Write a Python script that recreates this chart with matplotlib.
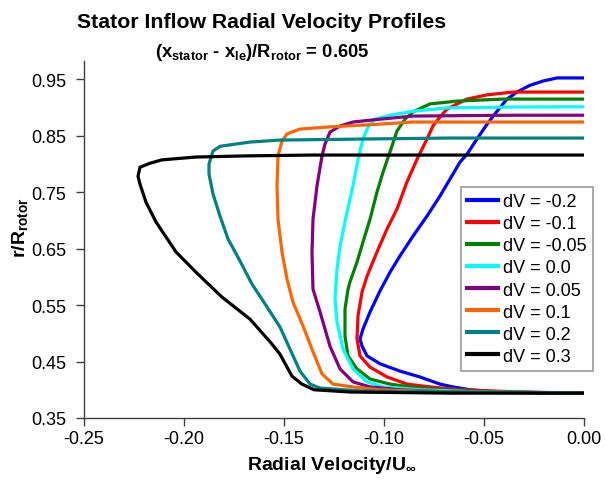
import matplotlib
matplotlib.use("Agg")
import matplotlib.pyplot as plt

plt.rcParams['font.family'] = ['Liberation Sans', 'DejaVu Sans']
plt.rcParams['mathtext.fontset'] = 'custom'
plt.rcParams['mathtext.rm'] = 'Liberation Sans'
plt.rcParams['mathtext.bf'] = 'Liberation Sans:bold'
plt.rcParams['mathtext.it'] = 'Liberation Sans:italic'
plt.rcParams['axes.unicode_minus'] = False

labels = ['dV = -0.2', 'dV = -0.1', 'dV = -0.05', 'dV = 0.0',
          'dV = 0.05', 'dV = 0.1', 'dV = 0.2', 'dV = 0.3']
colors = ['#0000FF', '#FF0000', '#008000', '#00FFFF',
          '#800080', '#FF6600', '#008080', '#000000']

# dV = -0.2
x_m02 = [0.000, -0.042, -0.057, -0.0655, -0.072, -0.082, -0.092, -0.102, -0.1085,
         -0.111, -0.112, -0.1105, -0.107, -0.102, -0.097, -0.092, -0.0855, -0.0785,
         -0.072, -0.067, -0.062, -0.0585, -0.0535, -0.0485, -0.0435, -0.0385,
         -0.0335, -0.027, -0.0205, -0.0135, 0.000]
y_m02 = [0.394, 0.396, 0.400, 0.405, 0.410, 0.4226, 0.433, 0.446, 0.460,
         0.4774, 0.490, 0.5075, 0.5376, 0.575, 0.608, 0.637, 0.672, 0.7075,
         0.743, 0.773, 0.803, 0.817, 0.844, 0.870, 0.893, 0.9146,
         0.927, 0.939, 0.9465, 0.952, 0.952]
# dV = -0.1
x_m01 = [0.000, -0.032, -0.062, -0.077, -0.0885, -0.0985, -0.107, -0.112, -0.1135,
         -0.113, -0.111, -0.1085, -0.1035, -0.0985, -0.0935, -0.0885, -0.0835,
         -0.0785, -0.0755, -0.072, -0.0685, -0.0585, -0.0485, -0.0355, 0.000]
y_m01 = [0.394, 0.396, 0.400, 0.405, 0.410, 0.4226, 0.440, 0.460, 0.490,
         0.5305, 0.573, 0.601, 0.644, 0.6845, 0.720, 0.768, 0.808,
         0.844, 0.867, 0.883, 0.897, 0.9146, 0.922, 0.927, 0.927]
# dV = -0.05
x_m005 = [0.000, -0.042, -0.072, -0.087, -0.097, -0.107, -0.1135, -0.118, -0.1195,
          -0.1195, -0.118, -0.117, -0.1135, -0.1105, -0.107, -0.1035, -0.1005,
          -0.097, -0.0935, -0.0895, -0.0855, -0.077, -0.0635, -0.0405, 0.000]
y_m005 = [0.394, 0.396, 0.400, 0.405, 0.410, 0.419, 0.437, 0.460, 0.495,
          0.543, 0.578, 0.591, 0.626, 0.6615, 0.702, 0.750, 0.785,
          0.821, 0.858, 0.879, 0.892, 0.906, 0.911, 0.9146, 0.9146]
# dV = 0.0
x_00 = [0.000, -0.052, -0.082, -0.1005, -0.1085, -0.1155, -0.1205, -0.1235, -0.1245,
        -0.1235, -0.122, -0.1185, -0.1155, -0.113, -0.1105, -0.108, -0.1045,
        -0.097, -0.0855, -0.0685, -0.0355, 0.000]
y_00 = [0.394, 0.396, 0.400, 0.405, 0.414, 0.437, 0.472, 0.520, 0.561,
        0.614, 0.654, 0.715, 0.761, 0.808, 0.844, 0.865, 0.879,
        0.886, 0.893, 0.899, 0.9005, 0.901]
# dV = 0.05
x_005 = [0.000, -0.067, -0.092, -0.107, -0.1155, -0.122, -0.127, -0.132, -0.1355,
         -0.136, -0.1355, -0.1335, -0.131, -0.1295, -0.127, -0.122, -0.1155,
         -0.102, -0.0855, -0.0355, 0.000]
y_005 = [0.394, 0.396, 0.400, 0.405, 0.414, 0.437, 0.477, 0.538, 0.578,
         0.644, 0.702, 0.761, 0.814, 0.835, 0.856, 0.867, 0.874,
         0.879, 0.8845, 0.886, 0.886]
# dV = 0.1
x_01 = [0.000, -0.067, -0.102, -0.1155, -0.1255, -0.131, -0.1355, -0.1405, -0.1455,
        -0.1485, -0.151, -0.153, -0.1535, -0.153, -0.151, -0.1485, -0.142,
        -0.1285, -0.1035, -0.0855, 0.000]
y_01 = [0.394, 0.396, 0.400, 0.405, 0.410, 0.428, 0.467, 0.513, 0.555,
        0.596, 0.644, 0.702, 0.761, 0.814, 0.840, 0.853, 0.8615,
        0.865, 0.870, 0.874, 0.874]
# dV = 0.2
x_02 = [0.000, -0.067, -0.112, -0.132, -0.137, -0.142, -0.147, -0.152, -0.1595,
        -0.166, -0.172, -0.178, -0.182, -0.1855, -0.1875, -0.1875, -0.1855,
        -0.182, -0.167, -0.152, -0.107, -0.067, 0.000]
y_02 = [0.394, 0.396, 0.398, 0.403, 0.410, 0.433, 0.472, 0.511, 0.552,
        0.587, 0.628, 0.667, 0.7075, 0.7465, 0.782, 0.7996, 0.8226,
        0.831, 0.8385, 0.842, 0.844, 0.8456, 0.8456]
# dV = 0.3
x_03 = [0.000, -0.067, -0.117, -0.135, -0.141, -0.146, -0.152, -0.157, -0.167,
        -0.181, -0.194, -0.204, -0.214, -0.219, -0.222, -0.223, -0.222, -0.217,
        -0.211, -0.194, -0.169, -0.136, -0.067, 0.000]
y_03 = [0.394, 0.394, 0.396, 0.400, 0.410, 0.424, 0.463, 0.485, 0.525,
        0.564, 0.608, 0.644, 0.697, 0.732, 0.764, 0.778, 0.794, 0.801,
        0.807, 0.812, 0.814, 0.8155, 0.8155, 0.8155]

series_x = [x_m02, x_m01, x_m005, x_00, x_005, x_01, x_02, x_03]
series_y = [y_m02, y_m01, y_m005, y_00, y_005, y_01, y_02, y_03]

x_ticks = [-0.25, -0.20, -0.15, -0.10, -0.05, 0.00]
y_ticks = [0.35, 0.45, 0.55, 0.65, 0.75, 0.85, 0.95]

fig = plt.figure(figsize=(6.05, 4.81), dpi=100)
ax = fig.add_axes([84/605, 1-419/481, 500/605, 357/481])

for xs, ys, c, lab in zip(series_x, series_y, colors, labels):
    ax.plot(xs, ys, color=c, lw=2.3, label=lab, solid_joinstyle='round')

ax.set_xlim(-0.25, 0.0)
ax.set_ylim(0.35, 0.982)
ax.set_xticks(x_ticks)
ax.set_yticks(y_ticks)
ax.set_xticklabels([f'{v:.2f}' for v in x_ticks])
ax.set_yticklabels([f'{v:.2f}' for v in y_ticks])
ax.tick_params(direction='out', length=6, width=1, color='#404040',
               labelsize=13)
ax.tick_params(axis='y', pad=7)
ax.tick_params(axis='x', pad=3)
for s in ['top', 'right']:
    ax.spines[s].set_visible(False)
for s in ['left', 'bottom']:
    ax.spines[s].set_color('#404040')
    ax.spines[s].set_linewidth(1)

fig.text(262/605, 1-28/481, 'Stator Inflow Radial Velocity Profiles',
         ha='center', va='baseline', fontsize=15.3, fontweight='bold')
fig.text(262/605, 1-57/481,
         r'(x$_{\mathbf{stator}}$ - x$_{\mathbf{le}}$)/R$_{\mathbf{rotor}}$ = 0.605',
         ha='center', va='baseline', fontsize=13.2, fontweight='bold')
fig.text(20/605, 1-228/481, r'r/R$_{\mathbf{rotor}}$', rotation=90,
         ha='center', va='center', fontsize=14, fontweight='bold')
fig.text(332/605, 1-470/481, r'Radial Velocity/U$_{\mathbf{\infty}}$',
         ha='center', va='baseline', fontsize=14, fontweight='bold')

leg = ax.legend(loc='upper left', bbox_to_anchor=(461/605, 1-188/481),
                bbox_transform=fig.transFigure, borderaxespad=0,
                fontsize=13, frameon=True, fancybox=False,
                edgecolor='#808080', handlelength=1.7, handletextpad=0.28,
                labelspacing=0.28, borderpad=0.35)
leg.get_frame().set_linewidth(1.2)
for h in leg.get_lines():
    h.set_linewidth(3)

fig.savefig('out.png', dpi=100)
